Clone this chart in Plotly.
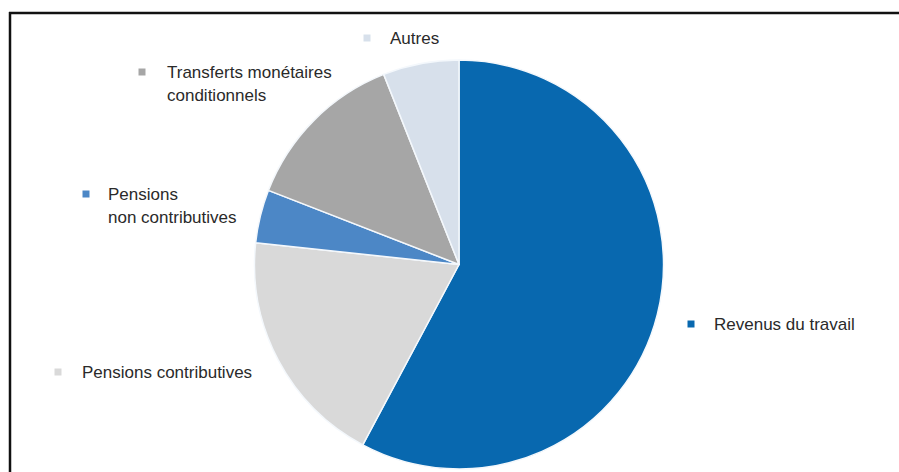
import plotly.graph_objects as go

# ---- data ----
categories = ["Revenus du travail", "Pensions contributives", "Pensions non contributives",
              "Transferts monétaires conditionnels", "Autres"]
shares = [57.8, 18.9, 4.2, 13.1, 6.0]
label_lines = [["Revenus du travail"], ["Pensions contributives"], ["Pensions", "non contributives"],
               ["Transferts monétaires", "conditionnels"], ["Autres"]]

# ---- style ----
colors = ["#0868AF", "#D9D9D9", "#4C87C6", "#A6A6A6", "#D7E0EB"]
W, H = 899, 472
# label anchor positions (pixels): square center x, first line y, text left x
label_pos = [(691, 324, 712), (58, 372, 80), (86, 194, 106), (142, 72, 165), (367, 38, 388)]
line_gap = 23
FONT = "Liberation Sans, Arial, sans-serif"

def px(x):
    return x / W

def py(y):
    return 1 - y / H

fig = go.Figure(go.Pie(
    labels=categories,
    values=shares,
    sort=False,
    direction="clockwise",
    rotation=0,
    marker=dict(colors=colors, line=dict(color="#F4F8FC", width=1.5)),
    textinfo="none",
    hoverinfo="label+percent",
    showlegend=False,
    domain=dict(x=[px(254), px(664)], y=[py(469), py(60)]),
))

shapes = []
annotations = []
sq = 3.5
for (sx, sy, tx), lines, col in zip(label_pos, label_lines, colors):
    shapes.append(dict(type="rect", xref="paper", yref="paper",
                       x0=px(sx - sq), x1=px(sx + sq), y0=py(sy + sq), y1=py(sy - sq),
                       fillcolor=col, line=dict(width=0)))
    for i, t in enumerate(lines):
        annotations.append(dict(text=t, xref="paper", yref="paper",
                                x=px(tx), y=py(sy + i * line_gap),
                                xanchor="left", yanchor="middle", showarrow=False,
                                font=dict(family=FONT, size=17, color="#2a2a2a")))

# frame lines
shapes.append(dict(type="line", xref="paper", yref="paper", x0=px(9), x1=1.0, y0=py(13), y1=py(13),
                   line=dict(color="#111111", width=2.5)))
shapes.append(dict(type="line", xref="paper", yref="paper", x0=px(10), x1=px(10), y0=py(12), y1=0,
                   line=dict(color="#111111", width=2.5)))

fig.update_layout(
    width=W, height=H,
    margin=dict(l=0, r=0, t=0, b=0),
    paper_bgcolor="white", plot_bgcolor="white",
    shapes=shapes, annotations=annotations,
)

fig.write_html("out.html", config={"displayModeBar": False},
               post_script=("document.documentElement.style.overflow='hidden';"
                            "document.body.style.margin='0';document.body.style.overflow='hidden';"))
